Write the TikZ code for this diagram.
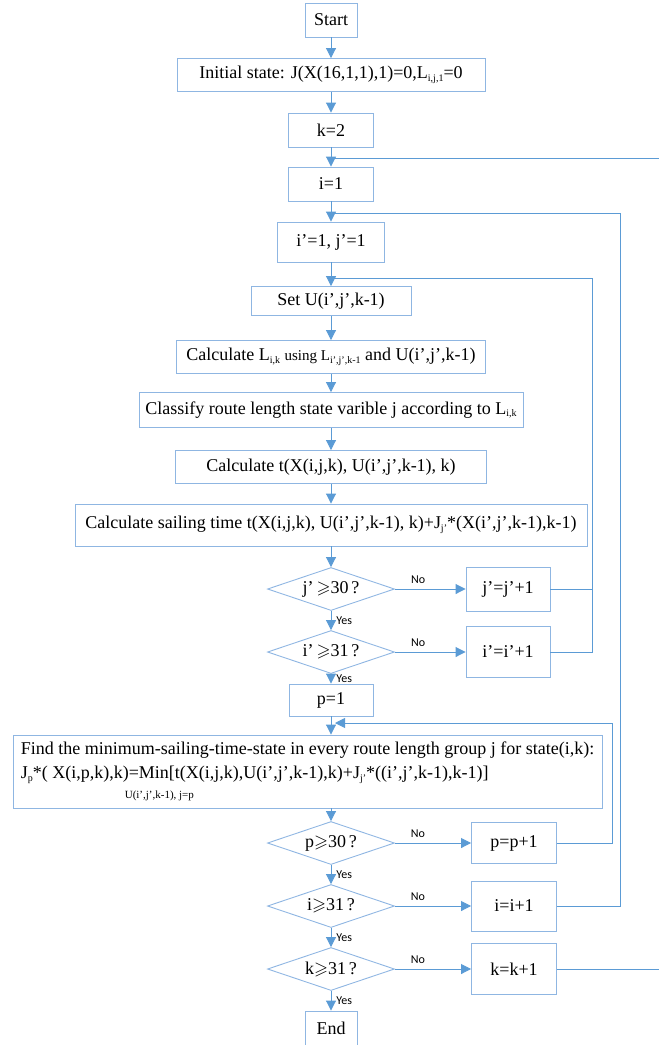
\documentclass[tikz,border=0pt]{standalone}
\usepackage{amssymb}
\usepackage{fontspec}
\setmainfont{Liberation Serif}
\newfontfamily\labelfont{Carlito}
\usetikzlibrary{shapes.geometric,arrows.meta,positioning}
\definecolor{flowblue}{RGB}{91,155,213}
\definecolor{boxblue}{RGB}{143,182,226}
\newcommand{\lowsub}[1]{\raisebox{-2.5pt}{\fontsize{10}{10}\selectfont #1}}

\begin{document}
\begin{tikzpicture}[x=1pt,y=1pt,node distance=55pt,on grid,auto,
    box/.style={draw=boxblue,line width=0.9pt,rectangle,inner sep=0pt,font=\fontsize{18}{22}\selectfont},
    decision/.style={draw=boxblue,line width=0.9pt,diamond,aspect=3,inner sep=0pt,
        minimum width=127pt,minimum height=43pt,font=\fontsize{18}{22}\selectfont},
    flow/.style={color=flowblue,line width=0.9pt,-{Triangle[length=10pt,width=10pt]}},
    feedback/.style={color=flowblue,line width=0.9pt},
    yn/.style={text=black,font=\labelfont\fontsize{12}{14}\selectfont,inner sep=5pt}]
            \useasboundingbox (0,0) rectangle (659,-1045);
            % main column
            \node[box,minimum width=52pt,minimum height=34pt] (start) at (331,-20) {Start};
            \node[box,minimum width=308pt,minimum height=33pt] (init) [below=of start]
                {Initial state: J(X(16,1,1),1)=0,L\lowsub{i,j,1}=0};
            \node[box,minimum width=85pt,minimum height=34pt] (k2) [below=of init] {k=2};
            \node[box,minimum width=85pt,minimum height=34pt] (i1) [below=54pt of k2] {i=1};
            \node[box,minimum width=107pt,minimum height=40pt] (ip1) [below=58pt of i1] {i’=1, j’=1};
            \node[box,minimum width=160pt,minimum height=29pt] (setU) [below=59pt of ip1] {Set U(i’,j’,k-1)};
            \node[box,minimum width=309pt,minimum height=33pt] (calcL) [below=56pt of setU]
                {Calculate L\lowsub{i,k} {\fontsize{15}{16}\selectfont using L\lowsub{i’,j’,k-1}} and U(i’,j’,k-1)};
            \node[box,minimum width=384pt,minimum height=35pt] (classify) [below=53pt of calcL]
                {Classify route length state varible j according to L\lowsub{i,k}};
            \node[box,minimum width=311pt,minimum height=33pt] (calct) [below=57pt of classify]
                {Calculate t(X(i,j,k), U(i’,j’,k-1), k)};
            \node[box,minimum width=512pt,minimum height=42pt] (sail) [below=58pt of calct]
                {Calculate sailing time t(X(i,j,k), U(i’,j’,k-1), k)+J\lowsub{j’}*(X(i’,j’,k-1),k-1)};
            \node[decision] (dj) [below=64pt of sail] {j’\,$\geqslant$30\,?};
            \node[decision] (di) [below=63pt of dj] {i’\,$\geqslant$31\,?};
            \node[box,minimum width=84pt,minimum height=32pt] (p1) [below=48pt of di] {p=1};
            \node[box,minimum width=589pt,minimum height=73pt,align=left,font=\fontsize{18}{24}\selectfont]
                (find) [below=71.5pt of p1,xshift=-23.5pt]
                {Find the minimum-sailing-time-state in every route length group j for state(i,k):\\
                 J\lowsub{p}*( X(i,p,k),k)=Min[t(X(i,j,k),U(i’,j’,k-1),k)+J\lowsub{j’}*((i’,j’,k-1),k-1)]\\[-4pt]
                 \hspace*{104pt}{\fontsize{11}{12}\selectfont U(i’,j’,k-1), j=p}};
            \node[decision] (dp) [below=143pt of p1] {p$\geqslant$30\,?};
            \node[decision] (dii) [below=63pt of dp] {i$\geqslant$31\,?};
            \node[decision] (dk) [below=63pt of dii] {k$\geqslant$31\,?};
            \node[box,minimum width=52pt,minimum height=34pt] (end) [below=59pt of dk] {End};
            % increments
            \node[box,minimum width=84pt,minimum height=44pt] (jinc) [right=177pt of dj] {j’=j’+1};
            \node[box,minimum width=84pt,minimum height=51pt] (iinc) [right=177pt of di] {i’=i’+1};
            \node[box,minimum width=85pt,minimum height=41pt] (pinc) [right=183pt of dp] {p=p+1};
            \node[box,minimum width=85pt,minimum height=50pt] (iiinc) [right=183pt of dii] {i=i+1};
            \node[box,minimum width=85pt,minimum height=51pt] (kinc) [right=183pt of dk] {k=k+1};
            % joints of the back loops
            \coordinate (joinK) at (331,-158);
            \coordinate (railK) at (661,-158);
            \coordinate (joinI) at (331,-213);
            \coordinate (railI) at (620,-213);
            \coordinate (joinU) at (331,-278);
            \coordinate (railU) at (592,-278);
            \coordinate (joinP) at (335,-723);
            \coordinate (railP) at (612,-723);
            \path[flow]
                (start) edge (init)
                (init) edge (k2)
                (k2) edge (i1)
                (i1) edge (ip1)
                (ip1) edge (setU)
                (setU) edge (calcL)
                (calcL) edge (classify)
                (classify) edge (calct)
                (calct) edge (sail)
                (sail) edge (dj)
                (dj) edge node[yn] {Yes} (di)
                (di) edge node[yn] {Yes} (p1)
                (p1) edge (p1 |- find.north)
                (dp |- find.south) edge (dp)
                (dp) edge node[yn] {Yes} (dii)
                (dii) edge node[yn] {Yes} (dk)
                (dk) edge node[yn] {Yes} (end)
                (dj) edge node[yn,pos=0.33] {No} (jinc)
                (di) edge node[yn,pos=0.33] {No} (iinc)
                (dp) edge node[yn,pos=0.3] {No} (pinc)
                (dii) edge node[yn,pos=0.3] {No} (iiinc)
                (dk) edge node[yn,pos=0.3] {No} (kinc);
            \draw[feedback] (jinc.east) -| (railU) -- (joinU);
            \draw[feedback] (iinc.east) -| (railU);
            \draw[flow] (pinc.east) -| (railP) -- (joinP);
            \draw[feedback] (iiinc.east) -| (railI) -- (joinI);
            \draw[feedback] (kinc.east) -| (railK) -- (joinK);
        \end{tikzpicture}
\end{document}
